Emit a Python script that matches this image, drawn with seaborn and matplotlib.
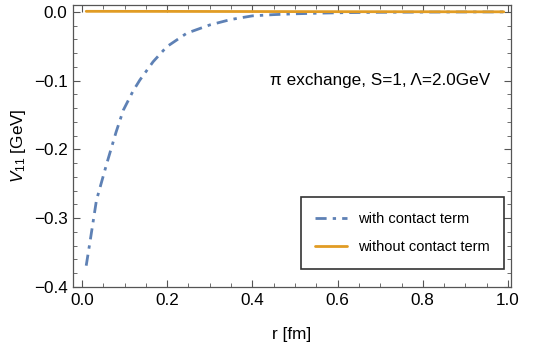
import matplotlib
matplotlib.use("Agg")
import matplotlib.pyplot as plt
import seaborn as sns
import pandas as pd
from matplotlib.ticker import MultipleLocator

sns.set_style("ticks")
plt.rcParams['font.family'] = ['Liberation Sans', 'DejaVu Sans']
plt.rcParams['mathtext.fontset'] = 'custom'
plt.rcParams['mathtext.rm'] = 'Liberation Sans'
plt.rcParams['mathtext.it'] = 'Liberation Sans:italic'
plt.rcParams['text.color'] = 'black'
plt.rcParams['axes.labelcolor'] = 'black'
plt.rcParams['xtick.labelcolor'] = 'black'
plt.rcParams['ytick.labelcolor'] = 'black'

r_with = [0.01, 0.02, 0.034, 0.058, 0.08, 0.097, 0.12, 0.136, 0.167, 0.199, 0.246, 0.30, 0.35, 0.40, 0.45, 0.50, 0.56, 0.62, 0.70, 0.80, 0.90, 0.99]
v_with = [-0.369, -0.330, -0.274, -0.221, -0.175, -0.143, -0.115, -0.099, -0.0725, -0.0507, -0.031, -0.019, -0.011, -0.0058, -0.0040, -0.0028, -0.0018, -0.0011, -0.0006, -0.0003, -0.0001, -0.00005]
r_without = [0.01, 0.2, 0.4, 0.6, 0.8, 0.99]
v_without = [0.0008, 0.0007, 0.0005, 0.0003, 0.0002, 0.0001]

label_with = "with contact term"
label_without = "without contact term"

df1 = pd.DataFrame({"r": r_with, "V": v_with})
df2 = pd.DataFrame({"r": r_without, "V": v_without})

fig = plt.figure(figsize=(5.42, 3.53), dpi=100)
ax = fig.add_axes([73/542, 1-287/353, (511-73)/542, (287-5)/353])

blue = "#5E81B5"
orange = "#E19C24"
sns.lineplot(data=df1, x="r", y="V", ax=ax, color=blue, lw=2,
             dashes=False, label=label_with, linestyle=(0, (4, 2.2, 1.2, 2.2)))
sns.lineplot(data=df2, x="r", y="V", ax=ax, color=orange, lw=2, label=label_without)

ax.set_xlim(-0.021, 1.007)
ax.set_ylim(-0.4, 0.01)
ax.xaxis.set_major_locator(MultipleLocator(0.2))
ax.xaxis.set_minor_locator(MultipleLocator(0.05))
ax.yaxis.set_major_locator(MultipleLocator(0.1))
ax.yaxis.set_minor_locator(MultipleLocator(0.02))
ax.set_xticklabels([f"{t:.1f}" for t in ax.get_xticks()])
ax.set_yticks([0.0, -0.1, -0.2, -0.3, -0.4])
ax.set_yticklabels(["0.0", "\u22120.1", "\u22120.2", "\u22120.3", "\u22120.4"])
ax.tick_params(which="both", direction="in", top=True, right=True, color="#555555",
               labelsize=12.3, pad=4)
ax.tick_params(which="major", length=5, width=0.8)
ax.tick_params(which="minor", length=3, width=0.6)
for s in ax.spines.values():
    s.set_color("#555555")
    s.set_linewidth(0.9)

ax.set_xlabel("r [fm]", fontsize=12.3, labelpad=14)
ax.set_ylabel(r"$V_{11}$ [GeV]", fontsize=12.3, labelpad=4)

ax.text(0.957, -0.1, "\u03c0 exchange, S=1, \u039b=2.0GeV", fontsize=12.3,
        ha="right", va="center")

leg = ax.legend(loc="lower right", bbox_to_anchor=(504/438 - 73/438, (287-269)/282),
                fontsize=10.5, frameon=True, fancybox=False, edgecolor="black",
                handlelength=2.2, borderpad=1.0, labelspacing=1.0, handletextpad=0.7,
                borderaxespad=0)
leg.get_frame().set_linewidth(1.2)
for t in leg.get_texts():
    t.set_color("black")

fig.savefig("out.png", dpi=100)
